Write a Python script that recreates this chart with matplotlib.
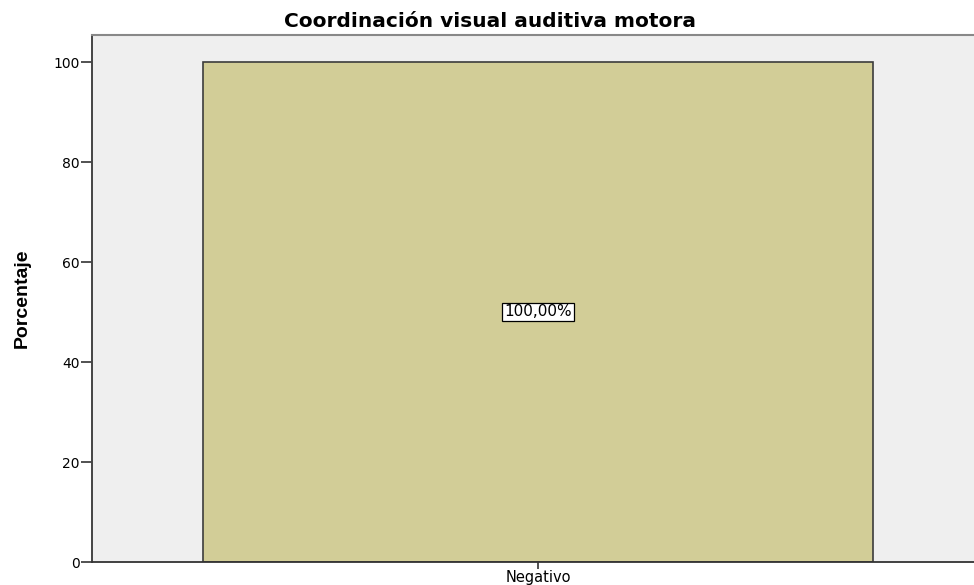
import matplotlib.pyplot as plt

categories = ["Negativo"]
percentages = [100.0]
bar_labels = ["100,00%"]
yticks = [0, 20, 40, 60, 80, 100]

plt.rcParams['font.family'] = ['DejaVu Sans']

fig = plt.figure(figsize=(9.74, 5.85), dpi=100)
ax = fig.add_axes([92 / 974, 23 / 585, 1 - 92 / 974, (562 - 35) / 585])
ax.set_facecolor("#EFEFEF")

x = list(range(len(categories)))
bars = ax.bar(x, percentages, width=1.0, color="#D2CD97", edgecolor="#3c3c3c", linewidth=1.2, zorder=2)

for xi, val, lab in zip(x, percentages, bar_labels):
    ax.text(xi, val / 2, lab, ha="center", va="center", fontsize=11,
            bbox=dict(boxstyle="square,pad=0.12", fc="white", ec="black", lw=0.9), zorder=3)

ax.set_xlim(-0.666, 0.651)
ax.set_ylim(0, 105.4)
ax.set_xticks(x)
ax.set_xticklabels(categories, fontsize=10.5)
ax.set_yticks(yticks)
ax.set_yticklabels([str(t) for t in yticks], fontsize=10)
ax.tick_params(axis="y", direction="out", length=8, width=1.2, color="#333333", pad=1)
ax.tick_params(axis="x", direction="out", length=5, width=1.2, color="#333333", pad=1)

ax.spines["right"].set_visible(False)
ax.spines["top"].set_color("#888888")
ax.spines["top"].set_linewidth(1.5)
ax.spines["left"].set_color("#444444")
ax.spines["left"].set_linewidth(1.4)
ax.spines["bottom"].set_color("#333333")
ax.spines["bottom"].set_linewidth(1.3)

fig.text(0.503, 1 - 27 / 585, "Coordinación visual auditiva motora", ha="center", va="baseline",
         fontsize=14.5, fontweight="bold")
ax.set_ylabel("Porcentaje", fontsize=14, fontweight="bold",
              family=["Liberation Sans"], labelpad=16)

fig.savefig("out.png", dpi=100)
